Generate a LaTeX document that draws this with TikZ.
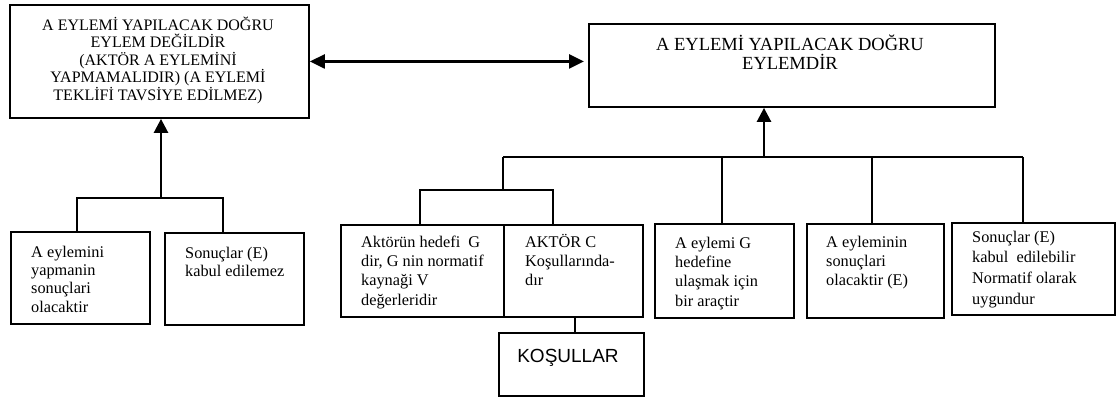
\documentclass[tikz,border=0pt]{standalone}
\usepackage{fontspec}
\setmainfont{Liberation Serif}
\newfontfamily\arialf{Liberation Sans}
\usetikzlibrary{arrows.meta}
\newcommand{\fstrut}{\rule{0pt}{15pt}}
\newcommand{\gstrut}{\rule{0pt}{16pt}}
\begin{document}
\begin{tikzpicture}[x=1pt,y=-1pt,
  box/.style={draw, line width=1.9pt, inner sep=0pt, anchor=north west},
  txt/.style={inner sep=0pt, anchor=north west, align=left, font=\fontsize{16.3}{19.4}\selectfont},
  conn/.style={line width=1.8pt},
  arrowline/.style={line width=2.6pt, -{Triangle[length=14pt,width=14pt]}},
  dblarrow/.style={line width=2.6pt, {Triangle[length=15pt,width=14pt]}-{Triangle[length=15pt,width=14pt]}}]
\useasboundingbox (0,0) rectangle (1120,398);
% top boxes
\node[box, minimum width=299pt, minimum height=113pt] (TL) at (9,4) {};
\node[inner sep=0pt, anchor=north, align=center, font=\fontsize{16}{17.5}\selectfont] (TLt) at (158,14)
  {\gstrut A EYLEMİ YAPILACAK DOĞRU\\EYLEM DEĞİLDİR\\(AKTÖR A EYLEMİNİ\\YAPMAMALIDIR) (A EYLEMİ\\TEKLİFİ TAVSİYE EDİLMEZ)};
\node[box, minimum width=406pt, minimum height=83pt] (TR) at (588,23) {};
\node[inner sep=0pt, anchor=north, align=center, font=\fontsize{18.5}{19}\selectfont] (TRt) at (790,33)
  {\rule{0pt}{17pt}A EYLEMİ YAPILACAK DOĞRU\\EYLEMDİR};
% bottom-left boxes
\node[box, minimum width=139pt, minimum height=92pt] (BL1) at (10,231) {};
\node[txt, font=\fontsize{16.3}{18.3}\selectfont] (BL1t) at (31,242) {\fstrut A eylemini\\yapmanin\\sonuçlari\\olacaktir};
\node[box, minimum width=139pt, minimum height=92pt] (BL2) at (164,232) {};
\node[txt, font=\fontsize{16.3}{18}\selectfont] (BL2t) at (185,243) {\fstrut Sonuçlar (E)\\kabul edilemez};
% bottom-right boxes
\node[box, minimum width=163pt, minimum height=92pt] (B1) at (340,224) {};
\node[txt] (B1t) at (361,232) {\fstrut Aktörün hedefi\ \ G\\dir, G nin normatif\\kaynaği V\\değerleridir};
\node[box, minimum width=139pt, minimum height=92pt] (B2) at (503,224) {};
\node[txt] (B2t) at (525,232) {\fstrut AKTÖR C\\Koşullarında-\\dır};
\node[box, minimum width=139pt, minimum height=94pt] (B3) at (654,223) {};
\node[txt] (B3t) at (675,233) {\fstrut A eylemi G\\hedefine\\ulaşmak için\\bir araçtir};
\node[box, minimum width=137pt, minimum height=94pt] (B4) at (806,223) {};
\node[txt] (B4t) at (826,232) {\fstrut A eyleminin\\sonuçlari\\olacaktir (E)};
\node[box, minimum width=163pt, minimum height=92pt] (B5) at (951,222) {};
\node[txt, font=\fontsize{16.3}{20.8}\selectfont] (B5t) at (972,227) {\fstrut Sonuçlar (E)\\kabul\ \ edilebilir\\Normatif olarak\\uygundur};
\node[box, minimum width=145pt, minimum height=63pt] (KOS) at (498,332) {};
\node[inner sep=0pt, anchor=base, font=\arialf\fontsize{19}{21}\selectfont] (KOSt) at (568,362) {KOŞULLAR};
% connectors
\draw[dblarrow] (TL.east) -- ([xshift=-4pt]TL.east -| TR.west);
\coordinate (j1) at (161,198);
\coordinate (b1) at (77,198);
\coordinate (b2) at (223,198);
\draw[conn] (b1 |- BL1.north) -- (b1) -- (b2) -- (b2 |- BL2.north);
\draw[arrowline] (j1) -- (j1 |- TL.south);
\coordinate (j2) at (764,157);
\coordinate (r0) at (503,157);
\coordinate (r3) at (722,157);
\coordinate (r4) at (872,157);
\coordinate (r5) at (1023,157);
\coordinate (s0) at (503,190);
\coordinate (s1) at (420,190);
\coordinate (s2) at (553,190);
\draw[conn] (r0) -- (r5);
\draw[conn] (r0) -- (s0);
\draw[conn] (s1 |- B1.north) -- (s1) -- (s2) -- (s2 |- B2.north);
\draw[conn] (r3) -- (r3 |- B3.north);
\draw[conn] (r4) -- (r4 |- B4.north);
\draw[conn] (r5) -- (r5 |- B5.north);
\draw[arrowline] (j2) -- (j2 |- TR.south);
\coordinate (k) at (575,0);
\draw[conn] (k |- B2.south) -- (k |- KOS.north);
\end{tikzpicture}
\end{document}
